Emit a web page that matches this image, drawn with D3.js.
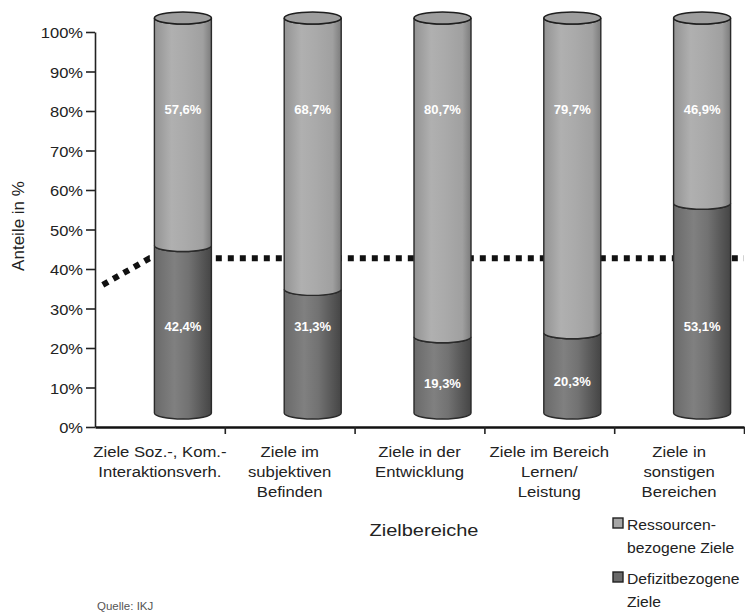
<!DOCTYPE html>
<html>
<head>
<meta charset="utf-8">
<script src="https://cdn.jsdelivr.net/npm/d3@7/dist/d3.min.js"></script>
<style>
  body { margin: 0; background: #fff; }
  text { font-family: "Liberation Sans", Arial, sans-serif; }
</style>
</head>
<body>
<svg id="chart" width="745" height="616"></svg>
<script>
// categories (one entry per line of the label)
const categories = [
  ["Ziele Soz.-, Kom.-", "Interaktionsverh."],
  ["Ziele im", "subjektiven", "Befinden"],
  ["Ziele in der", "Entwicklung"],
  ["Ziele im Bereich", "Lernen/", "Leistung"],
  ["Ziele in", "sonstigen", "Bereichen"]
];
const defizit = [42.4, 31.3, 19.3, 20.3, 53.1];
const ressourcen = [57.6, 68.7, 80.7, 79.7, 46.9];
const yTicks = [0, 10, 20, 30, 40, 50, 60, 70, 80, 90, 100];
// dotted line behind the cylinders (pos in category units)
const refLine = [
  { pos: 0.06, v: 36 },
  { pos: 0.42, v: 42.7 },
  { pos: 5, v: 42.7 }
];
const legendNames = [["Ressourcen-", "bezogene Ziele"], ["Defizitbezogene", "Ziele"]];

var width = 745, height = 616;
var svg = d3.select("#chart");
var sx = 1.15; // the scan's type is wider than the installed fonts

var x = d3.scaleBand().domain(d3.range(categories.length)).range([95, 744]);
var xPos = d3.scaleLinear().domain([0, categories.length]).range([95, 744]);
var y = d3.scaleLinear().domain([0, 100]).range([427, 32]);

// 3d depth offset of the cylinders
var dx = 23, dy = -14, rx = 28.5, ry = 6;

var defs = svg.append("defs");
function grad(id, stops) {
  var g = defs.append("linearGradient").attr("id", id)
    .attr("x1", "0%").attr("x2", "100%").attr("y1", "0%").attr("y2", "0%");
  stops.forEach(function(s) {
    g.append("stop").attr("offset", s[0]).attr("stop-color", s[1]);
  });
}
grad("gLight", [["0%", "#939393"], ["30%", "#b0b0b0"], ["55%", "#aaaaaa"], ["85%", "#a0a0a0"], ["100%", "#7c7c7c"]]);
grad("gDark", [["0%", "#6a6a6a"], ["35%", "#808080"], ["60%", "#727272"], ["100%", "#454545"]]);

// dotted line
svg.append("path")
  .datum(refLine)
  .attr("d", d3.line().x(d => xPos(d.pos)).y(d => y(d.v)))
  .attr("fill", "none")
  .attr("stroke", "#111")
  .attr("stroke-width", 6)
  .attr("stroke-dasharray", "6,6");

// axes
var yAxis = svg.append("g")
  .attr("transform", "translate(95,0)")
  .call(d3.axisLeft(y).tickValues(yTicks).tickFormat(d => d + "%").tickSize(9).tickSizeOuter(0));
yAxis.select(".domain").attr("stroke", "#222").attr("stroke-width", 1.6);
yAxis.selectAll(".tick line").attr("stroke", "#222").attr("stroke-width", 1.6);
yAxis.selectAll(".tick text")
  .attr("font-size", 15).attr("fill", "#222")
  .attr("x", null).attr("dy", null)
  .attr("transform", "translate(-12,5.5) scale(1.1,1)")
  .style("font-family", '"Liberation Sans", Arial, sans-serif');

var xAxis = svg.append("g")
  .attr("transform", "translate(0,427)")
  .call(d3.axisBottom(xPos).tickValues(d3.range(1, categories.length + 1)).tickSize(7).tickSizeOuter(0).tickFormat(""));
xAxis.select(".domain").attr("stroke", "#111").attr("stroke-width", 2.6);
xAxis.selectAll(".tick line").attr("stroke", "#222").attr("stroke-width", 1.6);

// category labels
svg.append("g").selectAll("text")
  .data(categories)
  .join("text")
  .attr("transform", (d, i) => "translate(" + (x(i) + x.bandwidth() / 2) + ",457) scale(" + sx + ",1)")
  .attr("text-anchor", "middle")
  .attr("font-size", 14.5)
  .attr("fill", "#222")
  .selectAll("tspan")
  .data(d => d)
  .join("tspan")
  .attr("x", 0)
  .attr("dy", (d, j) => j === 0 ? 0 : 20)
  .text(d => d);

// cylinders
function segPath(cx, v0, v1) {
  var yb = y(v0) + dy, yt = y(v1) + dy;
  return "M" + (cx - rx) + "," + yt + "L" + (cx - rx) + "," + yb +
    "A" + rx + "," + ry + " 0 0 0 " + (cx + rx) + "," + yb +
    "L" + (cx + rx) + "," + yt +
    "A" + rx + "," + ry + " 0 0 1 " + (cx - rx) + "," + yt + "Z";
}

var cyl = svg.append("g").selectAll("g")
  .data(categories.map((c, i) => ({ i: i, low: defizit[i], high: ressourcen[i] })))
  .join("g");

cyl.append("path")
  .attr("d", d => segPath(x(d.i) + x.bandwidth() / 2 + dx, 0, d.low))
  .attr("fill", "url(#gDark)")
  .attr("stroke", "#2a2a2a").attr("stroke-width", 1.4);

cyl.append("path")
  .attr("d", d => segPath(x(d.i) + x.bandwidth() / 2 + dx, d.low, d.low + d.high))
  .attr("fill", "url(#gLight)")
  .attr("stroke", "#2a2a2a").attr("stroke-width", 1.4);

cyl.append("ellipse")
  .attr("cx", d => x(d.i) + x.bandwidth() / 2 + dx)
  .attr("cy", d => y(d.low + d.high) + dy)
  .attr("rx", rx).attr("ry", ry)
  .attr("fill", "#9d9d9d")
  .attr("stroke", "#1e1e1e").attr("stroke-width", 1.6);

// value labels
function fmt(v) { return v.toFixed(1).replace(".", ",") + "%"; }
cyl.append("text")
  .attr("x", d => x(d.i) + x.bandwidth() / 2 + dx)
  .attr("y", d => y(77) + dy + 5)
  .attr("text-anchor", "middle")
  .attr("font-size", 13).attr("font-weight", "bold").attr("fill", "#fff")
  .text(d => fmt(d.high));
cyl.append("text")
  .attr("x", d => x(d.i) + x.bandwidth() / 2 + dx)
  .attr("y", d => y(d.low >= 30 ? 22 : d.low * 0.4) + dy + 5)
  .attr("text-anchor", "middle")
  .attr("font-size", 13).attr("font-weight", "bold").attr("fill", "#fff")
  .text(d => fmt(d.low));

// axis titles
svg.append("text")
  .attr("transform", "translate(24,226) rotate(-90)")
  .attr("text-anchor", "middle")
  .attr("font-size", 17).attr("fill", "#222")
  .text("Anteile in %");

svg.append("text")
  .attr("transform", "translate(424,536) scale(1.25,1)")
  .attr("text-anchor", "middle")
  .attr("font-size", 16).attr("fill", "#222")
  .text("Zielbereiche");

// legend
var legendFill = ["#a6a6a6", "#6a6a6a"];
var leg = svg.append("g").selectAll("g")
  .data(legendNames)
  .join("g")
  .attr("transform", (d, i) => "translate(613," + (518 + i * 54) + ")");
leg.append("rect")
  .attr("width", 10).attr("height", 10)
  .attr("fill", (d, i) => legendFill[i])
  .attr("stroke", "#222").attr("stroke-width", 1.4);
leg.append("text")
  .attr("transform", "translate(14,12) scale(1.12,1)")
  .attr("font-size", 14).attr("fill", "#222")
  .selectAll("tspan")
  .data(d => d)
  .join("tspan")
  .attr("x", 0)
  .attr("dy", (d, j) => j === 0 ? 0 : 23)
  .text(d => d);

svg.append("text")
  .attr("x", 97).attr("y", 610)
  .attr("font-size", 11.5).attr("fill", "#555")
  .text("Quelle: IKJ");
</script>
</body>
</html>
